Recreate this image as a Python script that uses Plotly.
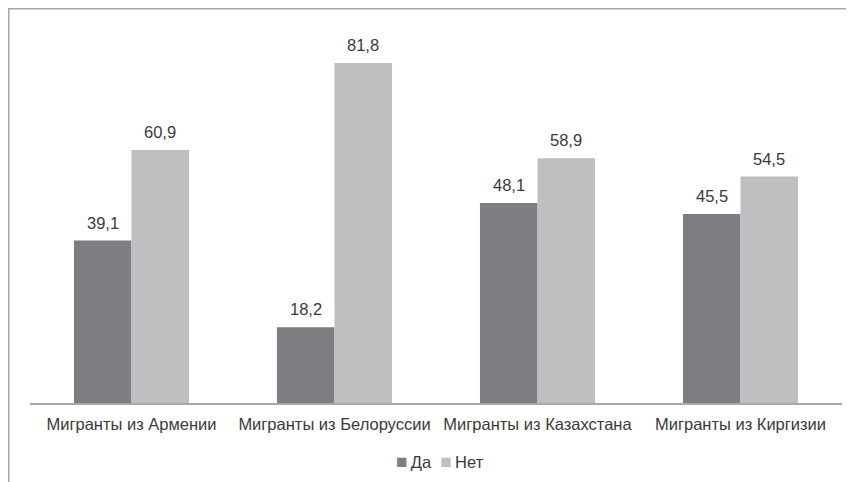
import plotly.graph_objects as go

categories = ["Мигранты из Армении", "Мигранты из Белоруссии", "Мигранты из Казахстана", "Мигранты из Киргизии"]
da = [39.1, 18.2, 48.1, 45.5]
net = [60.9, 81.8, 58.9, 54.5]
series_names = ["Да", "Нет"]
colors = ["#7e7e82", "#bfbfc2"]

def fmt(v):
    return f"{v:.1f}".replace(".", ",")

FONT = "Liberation Sans, Arial, sans-serif"
TXT = "#3a3a3a"

fig = go.Figure()
for name, vals, col in zip(series_names, [da, net], colors):
    fig.add_trace(go.Bar(name=name, x=categories, y=vals, marker_color=col,
                         marker_line_width=0, showlegend=False))

annotations = []
half = 812 / 4 * (1 - 0.433) / 4
for vals, shift in [(da, -half), (net, half)]:
    for c, v in zip(categories, vals):
        annotations.append(dict(x=c, y=v, xref="x", yref="y", text=fmt(v), showarrow=False,
                                xshift=shift, yshift=18, yanchor="middle",
                                font=dict(family=FONT, size=16.5, color=TXT)))

legend_text = (f"<span style='color:{colors[0]};font-size:19px'>■</span>\u2009{series_names[0]}\u00a0\u00a0"
               f"<span style='color:{colors[1]};font-size:19px'>■</span>\u2009{series_names[1]}")
annotations.append(dict(x=0.505, y=-0.1555, xref="paper", yref="paper", text=legend_text,
                        showarrow=False, xanchor="center", yanchor="middle",
                        font=dict(family=FONT, size=16.5, color=TXT)))

fig.update_layout(
    width=854, height=482,
    margin=dict(l=22, r=20, t=22, b=87),
    barmode="group", bargap=0.433, bargroupgap=0,
    plot_bgcolor="white", paper_bgcolor="white",
    font=dict(family=FONT, size=16.5, color=TXT),
    showlegend=False,
    xaxis=dict(showline=True, linecolor="#a8a8a8", linewidth=2, ticks="", showgrid=False,
               tickfont=dict(family=FONT, size=16.5, color=TXT), automargin=False,
               ticklabelstandoff=5),
    yaxis=dict(range=[0, 89.75], visible=False, showgrid=False),
    annotations=annotations,
    shapes=[dict(type="rect", xref="paper", yref="paper",
                 x0=-0.0265, x1=1.2, y0=-0.5, y1=1.0576,
                 line=dict(color="#a6a6a6", width=2))],
)

fig.write_html("out.html")
